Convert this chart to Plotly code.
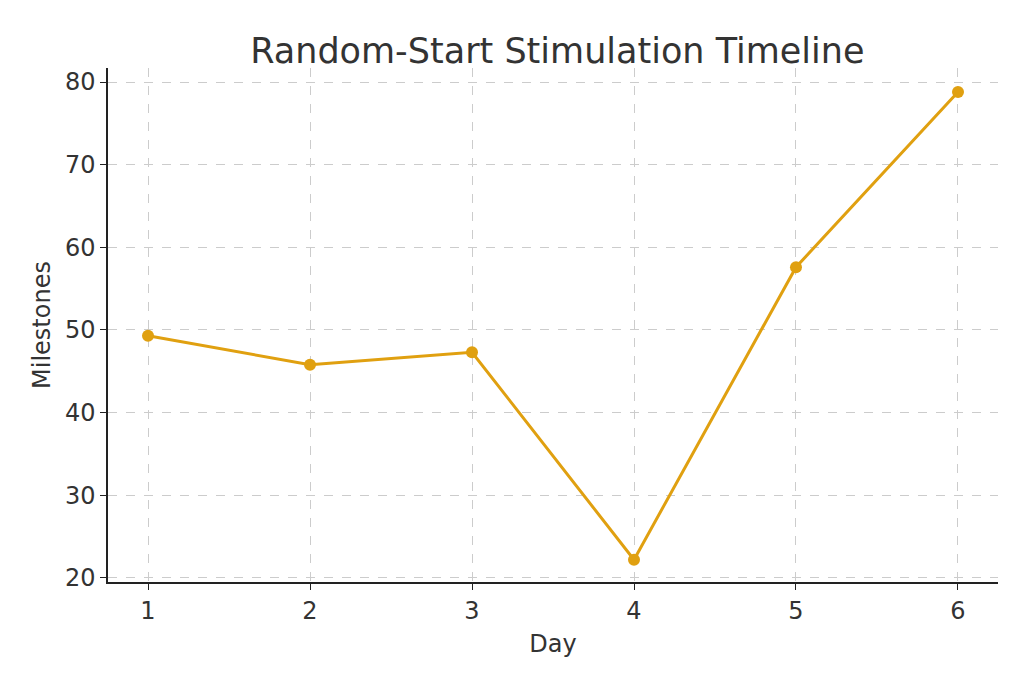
import plotly.graph_objects as go

days = [1, 2, 3, 4, 5, 6]
milestones = [49.3, 45.8, 47.3, 22.2, 57.6, 78.8]

fig = go.Figure(go.Scatter(
    x=days, y=milestones, mode="lines+markers",
    line=dict(color="#E0A010", width=3),
    marker=dict(color="#E0A010", size=12),
))
axis_common = dict(
    showgrid=True, gridcolor="#cccccc", griddash="dash", gridwidth=1,
    showline=True, linecolor="#222222", linewidth=1.5,
    ticks="outside", ticklen=6, tickcolor="#222222",
    tickfont=dict(size=24, color="#333333"), zeroline=False,
)
fig.update_xaxes(range=[0.753, 6.247], tickvals=days,
                 title=dict(text="Day", font=dict(size=24, color="#333333"), standoff=12), **axis_common)
fig.update_yaxes(range=[19.5, 81.7], tickvals=[20, 30, 40, 50, 60, 70, 80],
                 title=dict(text="Milestones", font=dict(size=24, color="#333333"), standoff=8), **axis_common)
fig.update_layout(
    width=1008, height=667,
    title=dict(text="Random-Start Stimulation Timeline", x=0.545, xanchor="center",
               y=0.955, font=dict(size=35, color="#333333")),
    font=dict(family="DejaVu Sans"),
    plot_bgcolor="white", paper_bgcolor="white",
    margin=dict(l=100, r=18, t=60, b=93),
    showlegend=False,
)
fig.write_html("out.html")
